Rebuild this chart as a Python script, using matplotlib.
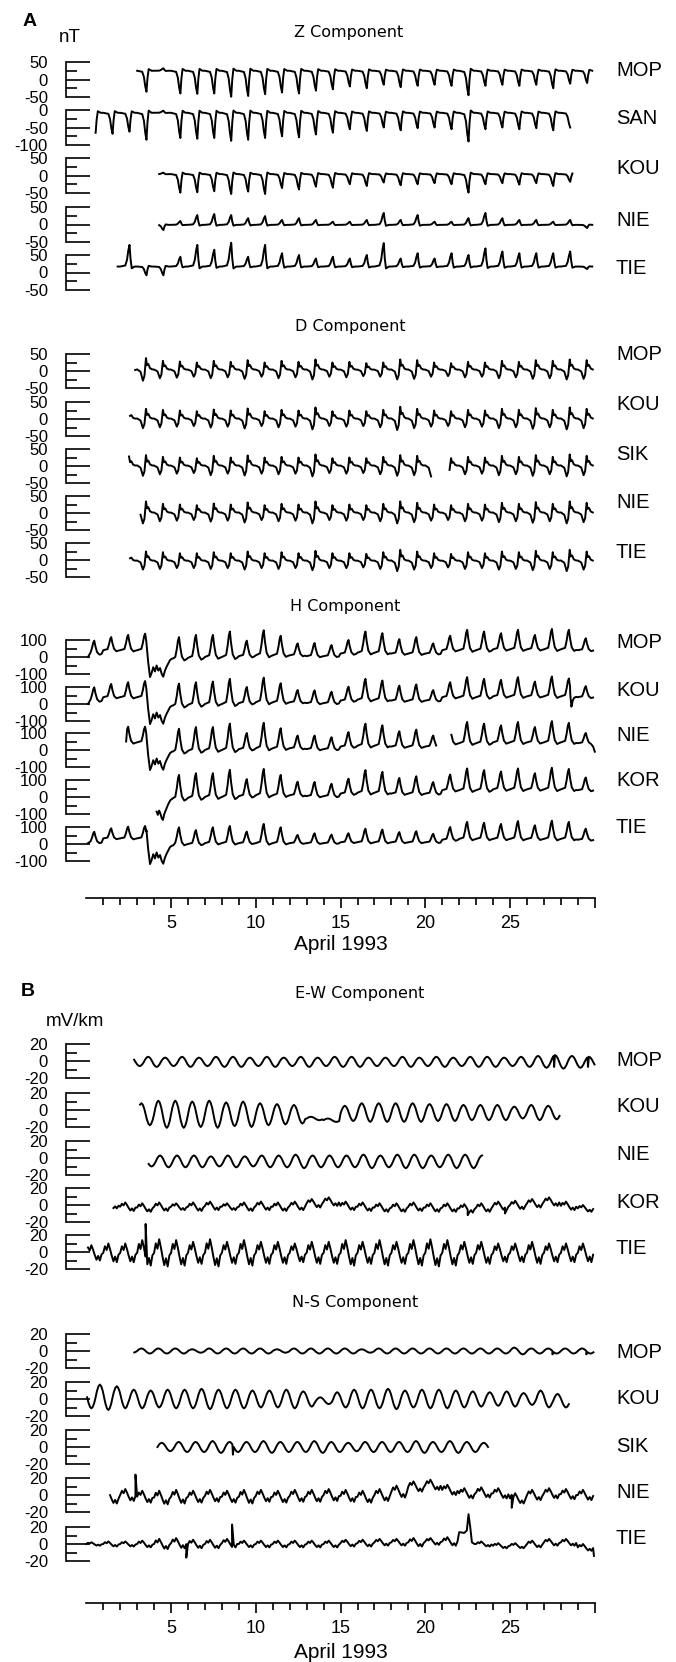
import numpy as np
import matplotlib.pyplot as plt

plt.rcParams['font.family'] = ['Liberation Sans', 'DejaVu Sans']

W, H = 676, 1662          # output size, px at dpi 100
X0, PPD = 86.3, 16.95     # px of day 0 and px per day on the April 1993 axis

# ---------------- data ----------------
# typical shape of one day of variation: fraction of the day and weight
z_tod = [0.00, 0.30, 0.40, 0.48, 0.55, 0.61, 0.68, 0.85]
z_w = [0.00, 0.05, 0.30, 0.75, 1.00, 0.35, -0.08, 0.00]
d_tod = [0.00, 0.20, 0.34, 0.43, 0.52, 0.58, 0.66, 0.76, 0.88]
d_w = [0.05, -0.15, -0.90, -0.50, 1.00, 0.40, 0.50, 0.15, 0.05]
h_tod = [0.00, 0.25, 0.34, 0.41, 0.47, 0.54, 0.64, 0.78, 0.90]
h_w = [0.00, 0.08, 0.45, 0.85, 1.00, 0.55, 0.10, -0.08, -0.03]
wave_tod = [0.00, 0.08, 0.17, 0.25, 0.33, 0.42, 0.50, 0.58, 0.67, 0.75, 0.83, 0.92]
wave_w = [0.00, 0.50, 0.87, 1.00, 0.87, 0.50, 0.00, -0.50, -0.87, -1.00, -0.87, -0.50]
rough_tod = [0.00, 0.10, 0.20, 0.30, 0.40, 0.50, 0.60, 0.70, 0.80, 0.90]
rough_w = [0.0, 0.7, 0.3, 1.0, 0.4, -0.3, -0.9, -0.4, -1.0, -0.2]

# Z component, nT: span drawn, night level, daily dip/peak from the first day
z_mop_span, z_mop_base = (2.98, 30.0), 25
z_mop = [15, -35, 32, -40, -41, -40, -49, -47, -42, -37, -40, -32, -28, -20,
         -25, -15, -22, -18, -15, -18, -45, -18, -15, -18, -15, -25, -12, -10]
z_san_span, z_san_base = (0.52, 28.6), -8
z_san = [-65, -68, -62, -85, -2, -80, -82, -80, -88, -85, -80, -75, -78, -70, -65,
         -55, -60, -50, -58, -52, -50, -55, -90, -55, -50, -55, -52, -58, -50]
z_kou_span, z_kou_base = (4.3, 28.7), 4
z_kou = [8, -49, -48, -45, -53, -46, -53, -36, -40, -32, -35, -25, -30,
         -20, -28, -25, -22, -25, -49, -25, -22, -26, -22, -30, -18]
z_nie_span, z_nie_base = (4.25, 30.0), -1
z_nie = [-16, 10, 27, 30, 27, 18, 24, 13, 18, 13, 8, 8, 13, 33, 13, 27,
         8, 8, 18, 33, 18, 13, 13, 8, 13, -10]
z_tie_span, z_tie_base = (1.8, 30.0), 17
z_tie = [17, 79, -8, -8, 45, 79, 65, 85, 45, 79, 55, 50, 40, 45, 40, 50,
         84, 40, 55, 40, 55, 50, 69, 60, 55, 55, 55, 60, 10]

# D component, nT: daily spike height
d_mop_span, d_mop_base = (2.87, 30.0), 3
d_mop = [0, 38, 30, 28, 25, 30, 27, 32, 25, 30, 27, 34, 25, 27, 23, 25, 34, 32,
         25, 23, 27, 25, 30, 27, 32, 30, 34, 32]
d_kou_span, d_kou_base = (2.58, 30.0), 0
d_kou = [23, 30, 27, 25, 23, 28, 25, 31, 23, 27, 25, 34, 23, 25, 23, 27, 36, 30,
         25, 23, 27, 25, 30, 27, 32, 27, 34, 30]
d_sik_span, d_sik_base = (2.47, 30.0), 0
d_sik = [28, 32, 27, 25, 23, 30, 25, 31, 25, 27, 25, 34, 23, 25, 23, 27, 32, 30,
         34, 23, 27, 25, 30, 27, 32, 27, 34, 30]
d_sik_gap = (20.35, 21.35)
d_nie_span, d_nie_base = (3.05, 30.0), 0
d_nie = [34, 27, 25, 23, 28, 25, 31, 23, 27, 25, 34, 23, 25, 23, 27, 34, 30,
         25, 23, 27, 25, 30, 27, 32, 27, 34, 30]
d_tie_span, d_tie_base = (2.58, 30.0), -3
d_tie = [17, 25, 23, 20, 20, 23, 20, 25, 20, 23, 20, 27, 20, 20, 18, 23, 30, 25,
         20, 18, 23, 20, 25, 23, 27, 23, 30, 25]

# H component, nT: daily night level and daily peak
h_mop_span = (0.1, 30.0)
h_mop_base = [20, 40, 40, 40, -110, -10, -5, 0, 0, 5, 10, 10, 10, 5, 5,
              20, 25, 25, 20, 20, 20, 40, 40, 40, 45, 45, 45, 45, 45, 40]
h_mop = [96, 117, 130, 137, -60, 117, 130, 130, 150, 96, 157, 125, 80, 82, 70,
         100, 150, 140, 105, 117, 80, 125, 160, 150, 140, 160, 130, 165, 160, 110]
h_kou_span = (0.1, 30.0)
h_kou_base = h_mop_base
h_kou = [98, 118, 128, 135, -60, 120, 128, 132, 148, 100, 155, 122, 82, 80, 72,
         102, 148, 138, 108, 115, 82, 128, 158, 148, 142, 158, 132, 162, 150, 105]
h_nie_span = (2.35, 30.0)
h_nie_base = [45, 45, -115, -10, -5, 0, 0, 5, 10, 10, 10, 5, 5, 20, 25, 25, 20, 20,
              20, 40, 40, 40, 45, 45, 45, 45, 45, 40]
h_nie = [137, 137, -65, 125, 135, 135, 155, 100, 160, 128, 85, 85, 75, 105, 155,
         145, 110, 120, 85, 130, 165, 155, 145, 165, 135, 170, 160, 100]
h_nie_gap = (20.7, 21.5)
h_kor_span = (4.15, 30.0)
h_kor_base = [-125, -10, -5, 0, 0, 5, 10, 10, 10, 5, 5, 20, 25, 25, 20, 20, 20,
              40, 40, 40, 45, 45, 45, 45, 45, 40]
h_kor = [-75, 130, 140, 140, 160, 105, 165, 130, 90, 88, 78, 108, 158, 148, 112,
         122, 88, 132, 168, 158, 150, 168, 140, 172, 165, 115]
h_tie_span = (0.1, 30.0)
h_tie_base = [10, 33, 33, 33, -115, 0, 0, 5, 5, 5, 5, 5, 5, 5, 5, 10, 10, 10, 10,
              10, 10, 25, 30, 30, 30, 30, 30, 30, 30, 25]
h_tie = [72, 92, 102, 106, -70, 98, 82, 98, 106, 73, 118, 98, 53, 63, 55, 63, 90,
         85, 70, 75, 60, 100, 130, 125, 118, 135, 110, 137, 130, 90]
# magnetic storm of April 3-5 (day, nT)
h_storm = [(3.55, 80), (3.65, -30), (3.76, -118), (3.85, -95), (3.95, -60),
           (4.05, -85), (4.15, -50), (4.25, -80), (4.35, -65), (4.45, -100),
           (4.54, -116), (4.64, -80), (4.74, -57), (4.85, -35), (4.94, -18),
           (5.05, -10), (5.13, -8)]
h_storm_kor = [(4.15, -86), (4.22, -105), (4.30, -80), (4.38, -100), (4.45, -125),
               (4.52, -135), (4.60, -100), (4.70, -75), (4.82, -45), (4.95, -20),
               (5.10, -8)]
h_kou_dip = [(28.55, 60), (28.62, -16), (28.70, 20)]
h_nie_end = [(29.9, 20), (30.0, -10)]

# E-W electric field, mV/km: daily centre level and daily peak
ew_mop_span, ew_mop_base = (2.77, 30.0), -1
ew_mop = [4, 5, 4, 5, 4, 5, 5, 4, 5, 4, 5, 4, 5, 5, 4, 4, 5, 4, 5, 4, 5, 5, 4, 5,
          6, 7, 6, 5]
ew_mop_spikes = [(27.6, -7), (29.6, -7)]
ew_kou_span = (3.17, 28.2)
ew_kou_base = [-5, -5, -5, -5, -5, -5, -5, -5, -5, -5, -10, -12, -4, -3, -3, -3,
               -3, -3, -3, -3, -3, -3, -3, -3, -3]
ew_kou = [8, 11, 11, 10, 11, 9, 10, 8, 7, 6, -8, -10, 5, 8, 8, 8, 8, 7, 7, 6, 6,
          6, 4, 6, 5]
ew_nie_span, ew_nie_base = (3.65, 23.4), -4
ew_nie = [2, 3, 3, 3, 2, 3, 2, 3, 3, 4, 3, 3, 3, 4, 3, 4, 4, 3, 4, 4, 3]
ew_kor_span = (1.6, 30.0)
ew_kor_base = [0, -2, -3, -2, -2, -2, -1, -2, -2, -1, -2, -1, 2, 4, -1, -2, -3,
               -3, -2, -3, -3, -4, -3, -1, 0, 2, 4, -1, -4]
ew_kor = [4, 3, 2, 3, 2, 3, 4, 2, 3, 4, 3, 4, 7, 9, 4, 3, 2, 2, 3, 2, 2, 1, 2, 4,
          5, 7, 9, 4, 0]
ew_kor_spikes = [(22.5, -12), (24.7, -10)]
ew_tie_span, ew_tie_base = (0.05, 30.0), -1
ew_tie = [8, 10, 10, 14, 15, 14, 12, 15, 12, 14, 12, 12, 10, 12, 12, 14, 12, 14,
          12, 14, 15, 14, 12, 12, 10, 10, 12, 10, 10, 10]
ew_tie_spikes = [(3.5, 33)]

# N-S electric field, mV/km
ns_mop_span, ns_mop_base = (2.77, 30.0), 0
ns_mop = [2, 3, 3, 3, 2, 3, 3, 3, 3, 2, 3, 3, 3, 3, 2, 3, 3, 3, 3, 3, 3, 3, 3, 4,
          3, 3, 3, 3]
ns_mop_spikes = [(27.5, -4), (29.5, -4)]
ns_kou_span = (0.0, 28.6)
ns_kou_base = [2, 2, 2, 0, 0, 0, 0, 0, 0, 0, 0, 0, 0, 0, -2, -1, 0, 0, 0, 0, 0,
               0, 0, 0, 0, 0, 0, 0, -2]
ns_kou = [15, 17, 15, 11, 10, 11, 11, 12, 11, 11, 10, 10, 11, 9, 2, 8, 11, 11,
          12, 10, 11, 11, 10, 9, 8, 9, 7, 10, 6]
ns_sik_span, ns_sik_base = (4.1, 23.75), 0
ns_sik = [5, 6, 6, 7, 6, 6, 7, 6, 6, 7, 6, 5, 6, 6, 6, 7, 6, 7, 6, 5]
ns_sik_spikes = [(8.65, -9)]
ns_nie_span = (1.4, 30.0)
ns_nie_base = [-3, 0, -2, -3, -2, -2, -1, -2, -2, -1, -2, -1, -1, 0, -1, -2, 0,
               4, 10, 12, 6, 2, 3, 2, -4, 0, 2, 1, 0]
ns_nie = [4, 7, 5, 5, 6, 5, 6, 5, 6, 6, 5, 6, 6, 7, 6, 5, 7, 11, 16, 18, 12, 8,
          9, 8, 2, 6, 8, 7, 6]
ns_nie_spikes = [(2.9, 24), (25.1, -15)]
ns_tie_span = (0.0, 30.0)
ns_tie_base = [0, 0, 0, 0, 0, 1, 0, 0, 1, 0, 0, 0, 0, 0, 0, 1, 1, 2, 2, 2, 3, 3,
               10, 0, -2, -2, 0, 2, 2, -4]
ns_tie = [2, 3, 3, 4, 6, 7, 5, 5, 6, 4, 4, 4, 4, 4, 4, 5, 5, 6, 6, 7, 7, 8, 14, 3,
          1, 1, 4, 6, 6, 0]
ns_tie_spikes = [(5.9, -16), (8.6, 23), (29.95, -14)]
ns_tie_step = [(21.9, 3), (22.0, 14), (22.3, 13), (22.45, 16), (22.55, 35),
               (22.65, 20), (22.75, 2), (22.9, 0)]


def series(span, base, ext, tod, w, shift=0.0, patches=(), gaps=()):
    t0, t1 = span
    ext = np.asarray(ext, float)
    day = np.floor(t0) + np.arange(len(ext))
    base = np.broadcast_to(np.asarray(base, float), ext.shape)
    x = (day[:, None] + np.asarray(tod)[None, :] + shift).ravel()
    y = (base[:, None] + (ext - base)[:, None] * np.asarray(w)[None, :]).ravel()
    keep = (x >= t0) & (x <= t1)
    x, y = x[keep], y[keep]
    for pts in patches:
        px_, py_ = np.array(pts, float).T
        if len(px_) > 1:
            out = (x < px_.min()) | (x > px_.max())
            x, y = x[out], y[out]
        x, y = np.r_[x, px_], np.r_[y, py_]
    for g0, g1 in gaps:
        y = np.where((x > g0) & (x < g1), np.nan, y)
        x, y = np.r_[x, (g0 + g1) / 2], np.r_[y, np.nan]
    o = np.argsort(x, kind='stable')
    return x[o], y[o]


def singles(points):
    return [[p] for p in points]


panels = [
    dict(title='Z Component', title_xy=(349, 32), tops=[62, 110, 158, 207, 255],
         height=35, label_y=[70, 118, 168, 220, 268],
         rows=[('MOP', (-50, 50), series(z_mop_span, z_mop_base, z_mop, z_tod, z_w)),
               ('SAN', (-100, 0), series(z_san_span, z_san_base, z_san, z_tod, z_w)),
               ('KOU', (-50, 50), series(z_kou_span, z_kou_base, z_kou, z_tod, z_w)),
               ('NIE', (-50, 50), series(z_nie_span, z_nie_base, z_nie, z_tod, z_w)),
               ('TIE', (-50, 50), series(z_tie_span, z_tie_base, z_tie, z_tod, z_w))]),
    dict(title='D Component', title_xy=(350, 327), tops=[354, 402, 449, 496, 543],
         height=34, label_y=[355, 405, 455, 502, 552],
         rows=[('MOP', (-50, 50), series(d_mop_span, d_mop_base, d_mop, d_tod, d_w)),
               ('KOU', (-50, 50), series(d_kou_span, d_kou_base, d_kou, d_tod, d_w)),
               ('SIK', (-50, 50), series(d_sik_span, d_sik_base, d_sik, d_tod, d_w,
                                         gaps=[d_sik_gap])),
               ('NIE', (-50, 50), series(d_nie_span, d_nie_base, d_nie, d_tod, d_w)),
               ('TIE', (-50, 50), series(d_tie_span, d_tie_base, d_tie, d_tod, d_w))]),
    dict(title='H Component', title_xy=(345, 607), tops=[640, 687, 733, 780, 827],
         height=34, label_y=[643, 690, 735, 780, 827],
         rows=[('MOP', (-100, 100), series(h_mop_span, h_mop_base, h_mop, h_tod, h_w,
                                           patches=[h_storm, [(0.1, 0)]])),
               ('KOU', (-100, 100), series(h_kou_span, h_kou_base, h_kou, h_tod, h_w,
                                           patches=[h_storm, h_kou_dip, [(0.1, 0)]])),
               ('NIE', (-100, 100), series(h_nie_span, h_nie_base, h_nie, h_tod, h_w,
                                           patches=[h_storm, h_nie_end, [(2.35, 50)]],
                                           gaps=[h_nie_gap])),
               ('KOR', (-100, 100), series(h_kor_span, h_kor_base, h_kor, h_tod, h_w,
                                           patches=[h_storm_kor])),
               ('TIE', (-100, 100), series(h_tie_span, h_tie_base, h_tie, h_tod, h_w,
                                           patches=[h_storm, [(0.1, 5)]]))]),
    dict(title='E-W Component', title_xy=(360, 993), tops=[1044, 1093, 1141, 1188, 1235],
         height=34, label_y=[1060, 1107, 1155, 1202, 1249],
         rows=[('MOP', (-20, 20), series(ew_mop_span, ew_mop_base, ew_mop, wave_tod, wave_w,
                                         shift=0.4, patches=singles(ew_mop_spikes))),
               ('KOU', (-20, 20), series(ew_kou_span, ew_kou_base, ew_kou, wave_tod, wave_w)),
               ('NIE', (-20, 20), series(ew_nie_span, ew_nie_base, ew_nie, wave_tod, wave_w,
                                         shift=0.1)),
               ('KOR', (-20, 20), series(ew_kor_span, ew_kor_base, ew_kor, rough_tod, rough_w,
                                         patches=singles(ew_kor_spikes))),
               ('TIE', (-20, 20), series(ew_tie_span, ew_tie_base, ew_tie, rough_tod, rough_w,
                                         patches=singles(ew_tie_spikes)))]),
    dict(title='N-S Component', title_xy=(355, 1302), tops=[1334, 1382, 1430, 1478, 1527],
         height=34, label_y=[1353, 1399, 1446, 1493, 1538],
         rows=[('MOP', (-20, 20), series(ns_mop_span, ns_mop_base, ns_mop, wave_tod, wave_w,
                                         patches=singles(ns_mop_spikes))),
               ('KOU', (-20, 20), series(ns_kou_span, ns_kou_base, ns_kou, wave_tod, wave_w,
                                         shift=-0.45)),
               ('SIK', (-20, 20), series(ns_sik_span, ns_sik_base, ns_sik, wave_tod, wave_w,
                                         shift=0.2, patches=singles(ns_sik_spikes))),
               ('NIE', (-20, 20), series(ns_nie_span, ns_nie_base, ns_nie, rough_tod, rough_w,
                                         patches=singles(ns_nie_spikes))),
               ('TIE', (-20, 20), series(ns_tie_span, ns_tie_base, ns_tie, rough_tod, rough_w,
                                         patches=[ns_tie_step] + singles(ns_tie_spikes)))]),
]

fig = plt.figure(figsize=(W / 100, H / 100), dpi=100)
fig.patch.set_facecolor('white')


def ftext(x, y, s, **kw):
    kw.setdefault('ha', 'center')
    kw.setdefault('va', 'center')
    return fig.text(x / W, 1 - y / H, s, **kw)


BAR_X = 66                  # px of the scale bars
XMAX = 30.05
for p in panels:
    ftext(*p['title_xy'], p['title'], family='DejaVu Sans', fontsize=11.5)
    for (name, (lo, hi), (x, y)), top, ly in zip(p['rows'], p['tops'], p['label_y']):
        right = X0 + PPD * XMAX
        ax = fig.add_axes([BAR_X / W, 1 - (top + p['height']) / H,
                           (right - BAR_X) / W, p['height'] / H])
        ax.set_xlim((BAR_X - X0) / PPD, XMAX)
        ax.set_ylim(lo, hi)
        ax.patch.set_visible(False)
        for s in ('top', 'right', 'bottom'):
            ax.spines[s].set_visible(False)
        ax.spines['left'].set_linewidth(1.2)
        mid = (lo + hi) / 2
        ax.set_yticks([lo, mid, hi], [f'{v:g}' for v in (lo, mid, hi)])
        ax.set_yticks([lo + (hi - lo) / 4, lo + 3 * (hi - lo) / 4], minor=True)
        ax.tick_params(axis='y', which='major', direction='in', length=17.3,
                       width=1.2, pad=13, labelsize=12)
        ax.tick_params(axis='y', which='minor', direction='in', length=8, width=1.2)
        ax.set_xticks([])
        ax.plot(x, y, color='black', lw=1.4, clip_on=False, solid_joinstyle='round')
        ftext(616, ly, name, ha='left', fontsize=14.5)

# day axes under each part
for y_px, lab_y in ((898, 945), (1603, 1652)):
    ax = fig.add_axes([X0 / W, 1 - y_px / H, 30 * PPD / W, 1 / H])
    ax.set_xlim(0, 30)
    ax.patch.set_visible(False)
    for s in ('top', 'right', 'left'):
        ax.spines[s].set_visible(False)
    ax.spines['bottom'].set_linewidth(1.2)
    ax.set_yticks([])
    ax.set_xticks([5, 10, 15, 20, 25, 30], ['5', '10', '15', '20', '25', ''])
    ax.set_xticks(range(1, 30), minor=True)
    ax.tick_params(axis='x', which='major', direction='out', length=7.2, width=1.2,
                   pad=5, labelsize=13)
    ax.tick_params(axis='x', which='minor', direction='out', length=5, width=1.2)
    ftext(341, lab_y, 'April 1993', fontsize=15)

ftext(30, 22, 'A', fontsize=14, fontweight='bold')
ftext(70, 38, 'nT', fontsize=13.5)
ftext(28, 992, 'B', fontsize=14, fontweight='bold')
ftext(75, 1021, 'mV/km', fontsize=13.5)

fig.savefig('out.png', dpi=100, facecolor='white')
